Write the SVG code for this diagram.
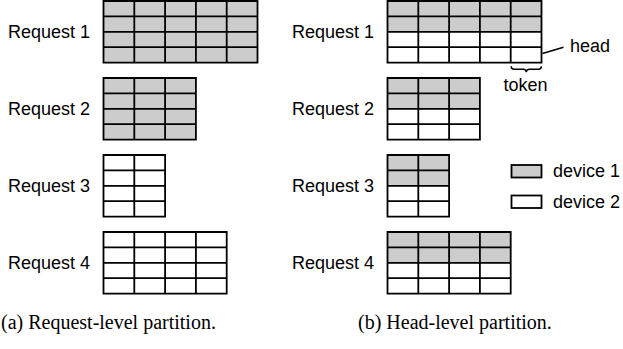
<svg xmlns="http://www.w3.org/2000/svg" width="623" height="349" viewBox="0 0 623 349">
  <style>
    .lbl { font-family: "Liberation Sans", Arial, sans-serif; font-size: 18px; fill: #000; }
    .cap { font-family: "Liberation Serif", "Times New Roman", serif; font-size: 20px; fill: #000; }
    .d1 { fill: #cccccc; stroke: none; }
    .d2 { fill: #ffffff; stroke: none; }
    .frame { fill: none; stroke: #000; stroke-width: 1.8; }
    .line { fill: none; stroke: #000; stroke-width: 1.5; }
  </style>

  <!-- (a) Request-level partition: each request sits wholly on one device -->
  <g id="a-request1">
    <text class="lbl" x="8" y="38.2">Request 1</text>
    <g transform="translate(103.5,1)">
      <rect class="d1" width="154" height="61.6"/>
      <path class="frame" d="M0,0H154V61.6H0Z M30.8,0V61.6M61.6,0V61.6M92.4,0V61.6M123.2,0V61.6 M0,15.4H154M0,30.8H154M0,46.2H154"/>
    </g>
  </g>
  <g id="a-request2">
    <text class="lbl" x="8" y="115.2">Request 2</text>
    <g transform="translate(103.5,78)">
      <rect class="d1" width="92.4" height="61.6"/>
      <path class="frame" d="M0,0H92.4V61.6H0Z M30.8,0V61.6M61.6,0V61.6 M0,15.4H92.4M0,30.8H92.4M0,46.2H92.4"/>
    </g>
  </g>
  <g id="a-request3">
    <text class="lbl" x="8" y="192.2">Request 3</text>
    <g transform="translate(103.5,155)">
      <rect class="d2" width="61.6" height="61.6"/>
      <path class="frame" d="M0,0H61.6V61.6H0Z M30.8,0V61.6 M0,15.4H61.6M0,30.8H61.6M0,46.2H61.6"/>
    </g>
  </g>
  <g id="a-request4">
    <text class="lbl" x="8" y="269.2">Request 4</text>
    <g transform="translate(103.5,232)">
      <rect class="d2" width="123.2" height="61.6"/>
      <path class="frame" d="M0,0H123.2V61.6H0Z M30.8,0V61.6M61.6,0V61.6M92.4,0V61.6 M0,15.4H123.2M0,30.8H123.2M0,46.2H123.2"/>
    </g>
  </g>

  <!-- (b) Head-level partition: half of the heads of every request on each device -->
  <g id="b-request1">
    <text class="lbl" x="292" y="38.2">Request 1</text>
    <g transform="translate(387.5,1)">
      <rect class="d1" width="154" height="30.8"/>
      <rect class="d2" y="30.8" width="154" height="30.8"/>
      <path class="frame" d="M0,0H154V61.6H0Z M30.8,0V61.6M61.6,0V61.6M92.4,0V61.6M123.2,0V61.6 M0,15.4H154M0,30.8H154M0,46.2H154"/>
    </g>
  </g>
  <g id="b-request2">
    <text class="lbl" x="292" y="115.2">Request 2</text>
    <g transform="translate(387.5,78)">
      <rect class="d1" width="92.4" height="30.8"/>
      <rect class="d2" y="30.8" width="92.4" height="30.8"/>
      <path class="frame" d="M0,0H92.4V61.6H0Z M30.8,0V61.6M61.6,0V61.6 M0,15.4H92.4M0,30.8H92.4M0,46.2H92.4"/>
    </g>
  </g>
  <g id="b-request3">
    <text class="lbl" x="292" y="192.2">Request 3</text>
    <g transform="translate(387.5,155)">
      <rect class="d1" width="61.6" height="30.8"/>
      <rect class="d2" y="30.8" width="61.6" height="30.8"/>
      <path class="frame" d="M0,0H61.6V61.6H0Z M30.8,0V61.6 M0,15.4H61.6M0,30.8H61.6M0,46.2H61.6"/>
    </g>
  </g>
  <g id="b-request4">
    <text class="lbl" x="292" y="269.2">Request 4</text>
    <g transform="translate(387.5,232)">
      <rect class="d1" width="123.2" height="30.8"/>
      <rect class="d2" y="30.8" width="123.2" height="30.8"/>
      <path class="frame" d="M0,0H123.2V61.6H0Z M30.8,0V61.6M61.6,0V61.6M92.4,0V61.6 M0,15.4H123.2M0,30.8H123.2M0,46.2H123.2"/>
    </g>
  </g>

  <!-- annotations: head row and token column -->
  <g id="connectors">
    <path class="line" d="M542.5,53.5L563.5,47.3"/>
    <path class="line" d="M511.2,66.2q0,3 3,3h9q3,0 3.1,3q0.1,-3 3.1,-3h9q3,0 3,-3"/>
  </g>
  <g id="head-label">
    <text class="lbl" x="570" y="52">head</text>
  </g>
  <g id="token-label">
    <text class="lbl" x="525.5" y="91" text-anchor="middle">token</text>
  </g>

  <!-- legend -->
  <g id="legend-device1">
    <rect class="d1" x="511.5" y="165" width="30" height="12.5"/>
    <rect class="frame" x="511.5" y="165" width="30" height="12.5"/>
    <text class="lbl" x="553" y="177">device 1</text>
  </g>
  <g id="legend-device2">
    <rect class="d2" x="511.5" y="195.5" width="30" height="12.5"/>
    <rect class="frame" x="511.5" y="195.5" width="30" height="12.5"/>
    <text class="lbl" x="553" y="207.5">device 2</text>
  </g>

  <!-- sub-figure captions -->
  <text class="cap" x="1" y="329">(a) Request-level partition.</text>
  <text class="cap" x="358" y="329">(b) Head-level partition.</text>
</svg>
